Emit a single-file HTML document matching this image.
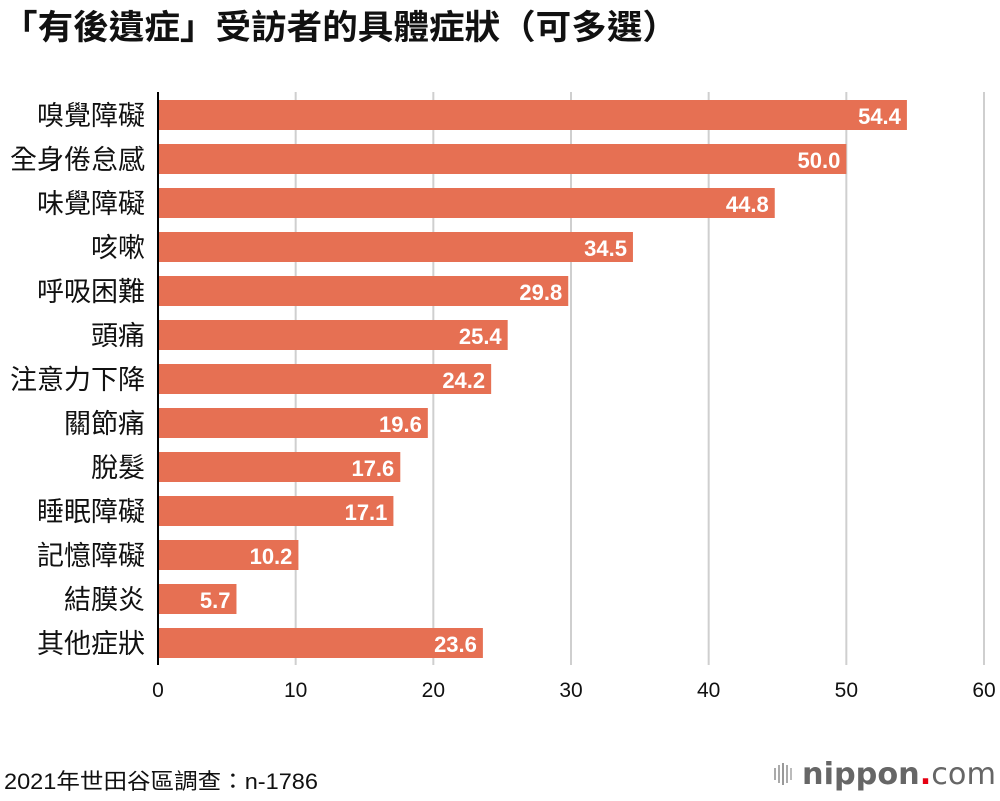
<!DOCTYPE html>
<html><head><meta charset="utf-8"><style>
body{margin:0;background:#fff;width:1000px;height:796px;overflow:hidden;font-family:"Liberation Sans","Noto Sans CJK TC",sans-serif;}
</style></head><body>
<svg id="chart" width="1000" height="796" xmlns="http://www.w3.org/2000/svg">
<text x="2" y="39" font-size="34" font-weight="bold" fill="#111" textLength="676" lengthAdjust="spacingAndGlyphs" font-family="Liberation Sans, Noto Sans CJK TC, sans-serif">「有後遺症」受訪者的具體症狀（可多選）</text>
<g id="grid"></g><g id="bars"></g><g id="labels"></g>
<line x1="158" y1="92" x2="158" y2="665" stroke="#000" stroke-width="2"/>
<text x="4" y="789" font-size="22" fill="#111" textLength="314" lengthAdjust="spacingAndGlyphs" font-family="Liberation Sans, Noto Sans CJK TC, sans-serif">2021年世田谷區調查：n-1786</text>
<g>
<rect x="774" y="768" width="2" height="12" fill="#aaa"/><rect x="778" y="765" width="2" height="18" fill="#aaa"/><rect x="782" y="763" width="2" height="22" fill="#999"/><rect x="786" y="765" width="2" height="18" fill="#aaa"/><rect x="790" y="768" width="2" height="12" fill="#bbb"/>
<text x="802" y="784" font-size="30" font-weight="bold" fill="#666" textLength="194" lengthAdjust="spacingAndGlyphs" font-family="DejaVu Sans, sans-serif">nippon<tspan fill="#e60012">.</tspan><tspan font-weight="normal">com</tspan></text>
</g>
</svg>
<script>
const categories=["嗅覺障礙","全身倦怠感","味覺障礙","咳嗽","呼吸困難","頭痛","注意力下降","關節痛","脫髮","睡眠障礙","記憶障礙","結膜炎","其他症狀"];
const values=[54.4,50.0,44.8,34.5,29.8,25.4,24.2,19.6,17.6,17.1,10.2,5.7,23.6];
const ticks=[0,10,20,30,40,50,60];
const NS="http://www.w3.org/2000/svg";
const x=v=>158+v*(984-158)/60;
const y=i=>100+i*44;
const mk=(t,a,p)=>{const e=document.createElementNS(NS,t);for(const k in a)e.setAttribute(k,a[k]);p.appendChild(e);return e;};
const grid=document.getElementById('grid'),bars=document.getElementById('bars'),labels=document.getElementById('labels');
const F="Liberation Sans, Noto Sans CJK TC, sans-serif";
ticks.forEach(t=>{
 if(t>0){const l=mk('line',{x1:x(t),x2:x(t),y1:92,y2:665,stroke:'#cfcfcf','stroke-width':2},grid);
 
 }
 const tx=mk('text',{x:x(t),y:697,'font-size':21,'text-anchor':'middle',fill:'#111','font-family':F},labels);
 tx.textContent=t;
 
 
});
categories.forEach((c,i)=>{
 const r=mk('rect',{x:159,y:y(i),width:x(values[i])-159,height:30,fill:'#e67053'},bars);
 
 
 const v=mk('text',{x:x(values[i])-6,y:y(i)+24,'font-size':22,'text-anchor':'end',fill:'#fff','font-weight':'bold','font-family':F},labels);
 v.textContent=values[i].toFixed(1);
 
 
 const cl=mk('text',{x:145,y:y(i)+25,'font-size':27,'text-anchor':'end',fill:'#111','font-family':F},labels);
 cl.textContent=c;
 
 
});
</script>
</body></html>
